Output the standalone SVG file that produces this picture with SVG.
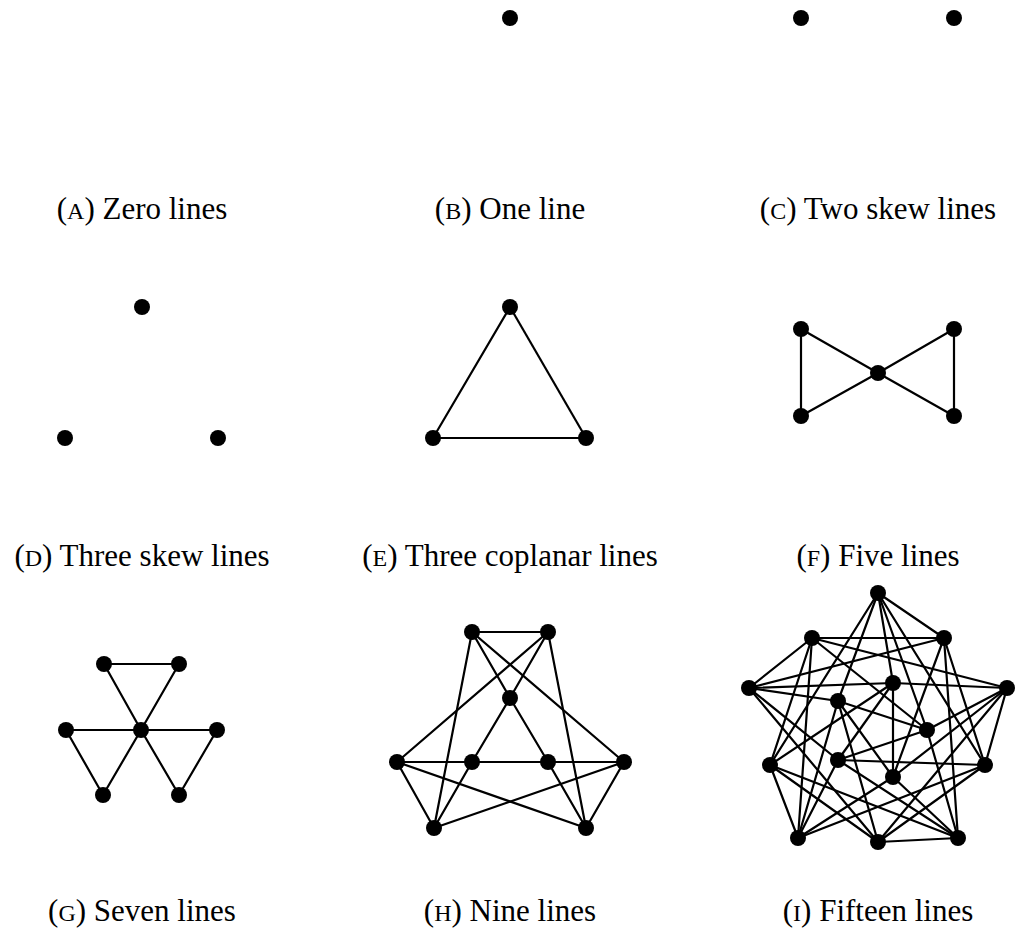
<svg xmlns="http://www.w3.org/2000/svg" width="1018" height="935" viewBox="0 0 1018 935">
<style>
.e{stroke:#000;stroke-width:2.2;fill:none;stroke-linecap:round}
.n{fill:#000}
.lbl{font-family:"Liberation Serif","Times New Roman",serif;font-size:31px;fill:#000;text-anchor:middle}
.sc{font-size:24px}
</style>
<rect width="1018" height="935" fill="#fff"/>

<!-- (B) One line -->
<g id="b-n1"><circle class="n" cx="510" cy="18" r="8"/></g>
<!-- (C) Two skew lines -->
<g id="c-n1"><circle class="n" cx="801" cy="18" r="8"/></g>
<g id="c-n2"><circle class="n" cx="954" cy="18" r="8"/></g>

<!-- (D) Three skew lines -->
<g id="d-n1"><circle class="n" cx="142" cy="307" r="8"/></g>
<g id="d-n2"><circle class="n" cx="65" cy="438" r="8"/></g>
<g id="d-n3"><circle class="n" cx="218" cy="438" r="8"/></g>

<!-- (E) connectors -->
<g id="e-edges" class="e">
<line x1="510" y1="307" x2="433" y2="438"/>
<line x1="510" y1="307" x2="586" y2="438"/>
<line x1="433" y1="438" x2="586" y2="438"/>
</g>
<g id="e-n1"><circle class="n" cx="510" cy="307" r="8"/></g>
<g id="e-n2"><circle class="n" cx="433" cy="438" r="8"/></g>
<g id="e-n3"><circle class="n" cx="586" cy="438" r="8"/></g>

<!-- (F) -->
<g id="f-edges" class="e">
<line x1="801" y1="329" x2="801" y2="416"/>
<line x1="954" y1="329" x2="954" y2="416"/>
<line x1="801" y1="329" x2="878" y2="373"/>
<line x1="801" y1="416" x2="878" y2="373"/>
<line x1="954" y1="329" x2="878" y2="373"/>
<line x1="954" y1="416" x2="878" y2="373"/>
</g>
<g id="f-n1"><circle class="n" cx="801" cy="329" r="8"/></g>
<g id="f-n2"><circle class="n" cx="954" cy="329" r="8"/></g>
<g id="f-n3"><circle class="n" cx="878" cy="373" r="8"/></g>
<g id="f-n4"><circle class="n" cx="801" cy="416" r="8"/></g>
<g id="f-n5"><circle class="n" cx="954" cy="416" r="8"/></g>

<!-- (G) -->
<g id="g-edges" class="e">
<line x1="104" y1="664" x2="179" y2="664"/>
<line x1="104" y1="664" x2="141" y2="730"/>
<line x1="179" y1="664" x2="141" y2="730"/>
<line x1="66" y1="730" x2="217" y2="730"/>
<line x1="66" y1="730" x2="103" y2="795"/>
<line x1="103" y1="795" x2="141" y2="730"/>
<line x1="141" y1="730" x2="179" y2="795"/>
<line x1="179" y1="795" x2="217" y2="730"/>
</g>
<g id="g-n1"><circle class="n" cx="104" cy="664" r="8"/></g>
<g id="g-n2"><circle class="n" cx="179" cy="664" r="8"/></g>
<g id="g-n3"><circle class="n" cx="66" cy="730" r="8"/></g>
<g id="g-n4"><circle class="n" cx="141" cy="730" r="8"/></g>
<g id="g-n5"><circle class="n" cx="217" cy="730" r="8"/></g>
<g id="g-n6"><circle class="n" cx="103" cy="795" r="8"/></g>
<g id="g-n7"><circle class="n" cx="179" cy="795" r="8"/></g>

<!-- (H) -->
<g id="h-edges" class="e">
<line x1="472" y1="632" x2="548" y2="632"/>
<line x1="472" y1="632" x2="510" y2="698"/>
<line x1="472" y1="632" x2="434" y2="828"/>
<line x1="472" y1="632" x2="624" y2="762"/>
<line x1="548" y1="632" x2="510" y2="698"/>
<line x1="548" y1="632" x2="397" y2="762"/>
<line x1="548" y1="632" x2="586" y2="828"/>
<line x1="510" y1="698" x2="472" y2="762"/>
<line x1="510" y1="698" x2="548" y2="762"/>
<line x1="397" y1="762" x2="624" y2="762"/>
<line x1="397" y1="762" x2="434" y2="828"/>
<line x1="397" y1="762" x2="586" y2="828"/>
<line x1="472" y1="762" x2="434" y2="828"/>
<line x1="548" y1="762" x2="586" y2="828"/>
<line x1="624" y1="762" x2="434" y2="828"/>
<line x1="624" y1="762" x2="586" y2="828"/>
</g>
<g id="h-n1"><circle class="n" cx="472" cy="632" r="8"/></g>
<g id="h-n2"><circle class="n" cx="548" cy="632" r="8"/></g>
<g id="h-n3"><circle class="n" cx="510" cy="698" r="8"/></g>
<g id="h-n4"><circle class="n" cx="397" cy="762" r="8"/></g>
<g id="h-n5"><circle class="n" cx="472" cy="762" r="8"/></g>
<g id="h-n6"><circle class="n" cx="548" cy="762" r="8"/></g>
<g id="h-n7"><circle class="n" cx="624" cy="762" r="8"/></g>
<g id="h-n8"><circle class="n" cx="434" cy="828" r="8"/></g>
<g id="h-n9"><circle class="n" cx="586" cy="828" r="8"/></g>

<!-- (I) -->
<g id="i-edges" class="e">
<line x1="944" y1="638" x2="985" y2="765"/>
<line x1="985" y1="765" x2="878" y2="842"/>
<line x1="878" y1="842" x2="770" y2="765"/>
<line x1="770" y1="765" x2="812" y2="638"/>
<line x1="812" y1="638" x2="944" y2="638"/>
<line x1="893" y1="683" x2="893" y2="777"/>
<line x1="927" y1="730" x2="838" y2="760"/>
<line x1="893" y1="777" x2="838" y2="701"/>
<line x1="838" y1="760" x2="893" y2="683"/>
<line x1="838" y1="701" x2="927" y2="730"/>
<line x1="944" y1="638" x2="893" y2="777"/>
<line x1="985" y1="765" x2="838" y2="760"/>
<line x1="878" y1="842" x2="838" y2="701"/>
<line x1="770" y1="765" x2="893" y2="683"/>
<line x1="812" y1="638" x2="927" y2="730"/>
<line x1="878" y1="593" x2="944" y2="638"/>
<line x1="878" y1="593" x2="985" y2="765"/>
<line x1="878" y1="593" x2="770" y2="765"/>
<line x1="878" y1="593" x2="838" y2="701"/>
<line x1="878" y1="593" x2="893" y2="683"/>
<line x1="878" y1="593" x2="927" y2="730"/>
<line x1="1007" y1="688" x2="985" y2="765"/>
<line x1="1007" y1="688" x2="878" y2="842"/>
<line x1="1007" y1="688" x2="812" y2="638"/>
<line x1="1007" y1="688" x2="893" y2="683"/>
<line x1="1007" y1="688" x2="927" y2="730"/>
<line x1="1007" y1="688" x2="893" y2="777"/>
<line x1="958" y1="838" x2="878" y2="842"/>
<line x1="958" y1="838" x2="770" y2="765"/>
<line x1="958" y1="838" x2="944" y2="638"/>
<line x1="958" y1="838" x2="927" y2="730"/>
<line x1="958" y1="838" x2="893" y2="777"/>
<line x1="958" y1="838" x2="838" y2="760"/>
<line x1="798" y1="838" x2="770" y2="765"/>
<line x1="798" y1="838" x2="812" y2="638"/>
<line x1="798" y1="838" x2="985" y2="765"/>
<line x1="798" y1="838" x2="893" y2="777"/>
<line x1="798" y1="838" x2="838" y2="760"/>
<line x1="798" y1="838" x2="838" y2="701"/>
<line x1="749" y1="688" x2="812" y2="638"/>
<line x1="749" y1="688" x2="944" y2="638"/>
<line x1="749" y1="688" x2="878" y2="842"/>
<line x1="749" y1="688" x2="838" y2="760"/>
<line x1="749" y1="688" x2="838" y2="701"/>
<line x1="749" y1="688" x2="893" y2="683"/>
</g>
<g id="i-t"><circle class="n" cx="878" cy="593" r="8"/></g>
<g id="i-ur"><circle class="n" cx="944" cy="638" r="8"/></g>
<g id="i-r"><circle class="n" cx="1007" cy="688" r="8"/></g>
<g id="i-lr"><circle class="n" cx="985" cy="765" r="8"/></g>
<g id="i-br"><circle class="n" cx="958" cy="838" r="8"/></g>
<g id="i-bm"><circle class="n" cx="878" cy="842" r="8"/></g>
<g id="i-bl"><circle class="n" cx="798" cy="838" r="8"/></g>
<g id="i-ll"><circle class="n" cx="770" cy="765" r="8"/></g>
<g id="i-l"><circle class="n" cx="749" cy="688" r="8"/></g>
<g id="i-ul"><circle class="n" cx="812" cy="638" r="8"/></g>
<g id="i-a"><circle class="n" cx="893" cy="683" r="8"/></g>
<g id="i-c"><circle class="n" cx="927" cy="730" r="8"/></g>
<g id="i-e"><circle class="n" cx="893" cy="777" r="8"/></g>
<g id="i-d"><circle class="n" cx="838" cy="760" r="8"/></g>
<g id="i-b"><circle class="n" cx="838" cy="701" r="8"/></g>

<g id="captions" class="lbl">
<text x="142" y="219">(<tspan class="sc">A</tspan>) Zero lines</text>
<text x="510" y="219">(<tspan class="sc">B</tspan>) One line</text>
<text x="878" y="219">(<tspan class="sc">C</tspan>) Two skew lines</text>
<text x="142" y="566">(<tspan class="sc">D</tspan>) Three skew lines</text>
<text x="510" y="566">(<tspan class="sc">E</tspan>) Three coplanar lines</text>
<text x="878" y="566">(<tspan class="sc">F</tspan>) Five lines</text>
<text x="142" y="921">(<tspan class="sc">G</tspan>) Seven lines</text>
<text x="510" y="921">(<tspan class="sc">H</tspan>) Nine lines</text>
<text x="878" y="921">(<tspan class="sc">I</tspan>) Fifteen lines</text>
</g>
</svg>
